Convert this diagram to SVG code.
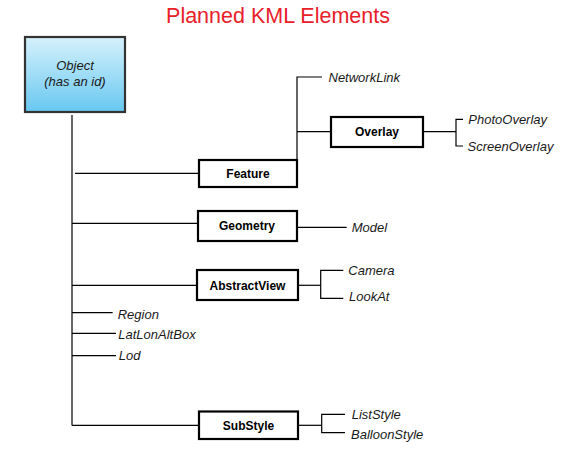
<svg xmlns="http://www.w3.org/2000/svg" width="572" height="466" viewBox="0 0 572 466">
<defs>
<linearGradient id="objGrad" x1="0" y1="0" x2="0" y2="1">
<stop offset="0" stop-color="#d6f1fc"/>
<stop offset="1" stop-color="#68c8f1"/>
</linearGradient>
</defs>
<style>
.box{fill:#fff;stroke:#000;stroke-width:2.2}
.lbl{font-family:"Liberation Sans",Arial,sans-serif;font-size:12px;font-weight:bold;fill:#000;text-anchor:middle}
.it{font-family:"Liberation Sans",Arial,sans-serif;font-size:13px;font-style:italic;fill:#1a1a1a}
.ln{stroke:#000;stroke-width:1.2;fill:none}
</style>
<rect width="572" height="466" fill="#fff"/>
<text x="278" y="22.5" font-family="'Liberation Sans',Arial,sans-serif" font-size="21.5" fill="#e8202a" text-anchor="middle">Planned KML Elements</text>

<g id="connectors">
<line class="ln" x1="72" y1="115" x2="72" y2="425.5"/>
<line class="ln" x1="75" y1="173.3" x2="199" y2="173.3"/>
<polyline class="ln" points="297,160 297,77 322,77"/>
<line class="ln" x1="297" y1="131.7" x2="331" y2="131.7"/>
<line class="ln" x1="423" y1="131.7" x2="456" y2="131.7"/>
<polyline class="ln" points="463,119.3 456,119.3 456,146 463,146"/>
<line class="ln" x1="72" y1="223.3" x2="198" y2="223.3"/>
<line class="ln" x1="297" y1="227.3" x2="346.7" y2="227.3"/>
<line class="ln" x1="72" y1="285.3" x2="197" y2="285.3"/>
<line class="ln" x1="298" y1="285.3" x2="320.7" y2="285.3"/>
<polyline class="ln" points="343.3,270.3 320.7,270.3 320.7,298.3 343.3,298.3"/>
<line class="ln" x1="72" y1="312.7" x2="112.7" y2="312.7"/>
<line class="ln" x1="72" y1="333.3" x2="116" y2="333.3"/>
<line class="ln" x1="72" y1="355.7" x2="116" y2="355.7"/>
<line class="ln" x1="72" y1="425.3" x2="199" y2="425.3"/>
<line class="ln" x1="298" y1="425.3" x2="321.7" y2="425.3"/>
<polyline class="ln" points="345,414.3 321.7,414.3 321.7,432.7 345,432.7"/>
</g>

<g id="object">
<rect x="25" y="37" width="100" height="75" fill="url(#objGrad)" stroke="#333" stroke-width="2.2"/>
<text class="it" x="75" y="70" text-anchor="middle">Object</text>
<text class="it" x="75" y="86" text-anchor="middle">(has an id)</text>
</g>

<g id="feature">
<rect class="box" x="199" y="160" width="98" height="27"/>
<text class="lbl" x="248" y="177.5">Feature</text>
</g>
<g id="networklink"><text class="it" x="328.5" y="81.5">NetworkLink</text></g>
<g id="overlay">
<rect class="box" x="331" y="117" width="92" height="30"/>
<text class="lbl" x="377" y="136">Overlay</text>
</g>
<g id="photooverlay"><text class="it" x="468.3" y="124">PhotoOverlay</text></g>
<g id="screenoverlay"><text class="it" x="467.5" y="150.5">ScreenOverlay</text></g>

<g id="geometry">
<rect class="box" x="198" y="211" width="99" height="30"/>
<text class="lbl" x="247" y="230">Geometry</text>
</g>
<g id="model"><text class="it" x="351.7" y="231.5">Model</text></g>

<g id="abstractview">
<rect class="box" x="197" y="270" width="101" height="30"/>
<text class="lbl" x="247.5" y="289.5">AbstractView</text>
</g>
<g id="camera"><text class="it" x="348.3" y="275">Camera</text></g>
<g id="lookat"><text class="it" x="349" y="300.5">LookAt</text></g>

<g id="region"><text class="it" x="117.7" y="318.5">Region</text></g>
<g id="latlonaltbox"><text class="it" x="118.3" y="339">LatLonAltBox</text></g>
<g id="lod"><text class="it" x="118.7" y="359.5">Lod</text></g>

<g id="substyle">
<rect class="box" x="199" y="411.5" width="99" height="27.5"/>
<text class="lbl" x="248.5" y="429.5">SubStyle</text>
</g>
<g id="liststyle"><text class="it" x="351.7" y="418.5">ListStyle</text></g>
<g id="balloonstyle"><text class="it" x="351" y="438.5">BalloonStyle</text></g>
</svg>
